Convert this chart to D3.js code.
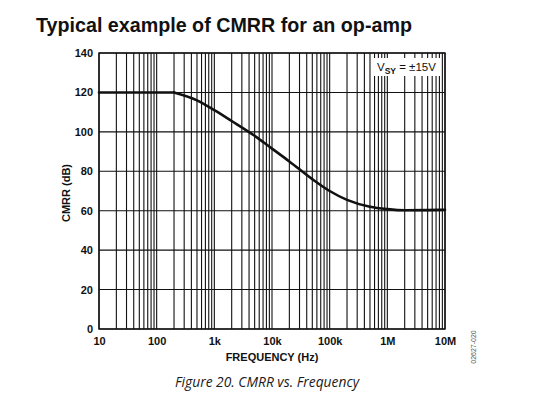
<!DOCTYPE html>
<html>
<head>
<meta charset="utf-8">
<script src="https://cdn.jsdelivr.net/npm/d3@7"></script>
<style>
  body { margin: 0; background: #fff; }
  svg { display: block; }
</style>
</head>
<body>
<script>
// CMRR curve
var freqs = [10, 200, 500, 1000, 2000, 5000, 10000, 20000, 50000, 100000, 200000, 500000, 1000000, 2000000, 5000000, 10000000];
var cmrr  = [120, 120, 116, 111, 105.5, 98, 91.5, 85, 76, 70, 65.5, 62, 60.8, 60.2, 60.3, 60.5];
var yTicks = [0, 20, 40, 60, 80, 100, 120, 140];
var xTicks = [10, 100, 1e3, 1e4, 1e5, 1e6, 1e7];
var xTickLabels = ["10", "100", "1k", "10k", "100k", "1M", "10M"];

var width = 540, height = 417;
var pLeft = 99, pRight = 445, pTop = 53, pBottom = 329;

var svg = d3.select("body").append("svg")
    .attr("width", width)
    .attr("height", height);

var x = d3.scaleLog().domain([10, 1e7]).range([pLeft, pRight]);
var y = d3.scaleLinear().domain([0, 140]).range([pBottom, pTop]);

// title
svg.append("text")
    .attr("x", 36)
    .attr("y", 32)
    .attr("font-family", "Liberation Sans, Arial, sans-serif")
    .attr("font-weight", "bold")
    .attr("font-size", 19.7)
    .attr("fill", "#111")
    .text("Typical example of CMRR for an op-amp");

// vertical grid: 1..9 in every decade
var minor = [];
for (var d = 10; d < 1e7; d *= 10) {
  for (var k = 1; k < 10; k++) minor.push(d * k);
}
minor.push(1e7);

svg.append("g").selectAll("line")
    .data(minor)
    .enter().append("line")
    .attr("x1", function (f) { return x(f); })
    .attr("x2", function (f) { return x(f); })
    .attr("y1", pTop)
    .attr("y2", pBottom)
    .attr("stroke", "#111")
    .attr("stroke-width", 1.1);

svg.append("g").selectAll("line")
    .data(yTicks)
    .enter().append("line")
    .attr("x1", pLeft)
    .attr("x2", pRight)
    .attr("y1", function (v) { return y(v); })
    .attr("y2", function (v) { return y(v); })
    .attr("stroke", "#111")
    .attr("stroke-width", 1.1);

// frame
svg.append("rect")
    .attr("x", pLeft)
    .attr("y", pTop)
    .attr("width", pRight - pLeft)
    .attr("height", pBottom - pTop)
    .attr("fill", "none")
    .attr("stroke", "#111")
    .attr("stroke-width", 1.4);

// axes (labels only)
var yAxis = svg.append("g")
    .attr("transform", "translate(" + pLeft + ",0)")
    .call(d3.axisLeft(y).tickValues(yTicks).tickSize(0).tickPadding(6));
var xAxis = svg.append("g")
    .attr("transform", "translate(0," + pBottom + ")")
    .call(d3.axisBottom(x).tickValues(xTicks).tickSize(0).tickPadding(8)
      .tickFormat(function (d, i) { return xTickLabels[i]; }));

[yAxis, xAxis].forEach(function (a) {
  a.select(".domain").remove();
  a.selectAll("text")
      .attr("font-family", "Liberation Sans, Arial, sans-serif")
      .attr("font-weight", "bold")
      .attr("font-size", 11)
      .attr("fill", "#111");
});

svg.append("text")
    .attr("x", 272)
    .attr("y", 361)
    .attr("text-anchor", "middle")
    .attr("font-family", "Liberation Sans, Arial, sans-serif")
    .attr("font-weight", "bold")
    .attr("font-size", 11)
    .attr("fill", "#111")
    .text("FREQUENCY (Hz)");

svg.append("text")
    .attr("transform", "translate(70,193) rotate(-90)")
    .attr("text-anchor", "middle")
    .attr("font-family", "Liberation Sans, Arial, sans-serif")
    .attr("font-weight", "bold")
    .attr("font-size", 11)
    .attr("fill", "#111")
    .text("CMRR (dB)");

// curve: flat part straight, roll-off smoothed (keeps the sharp knee at 200 Hz)
var pts = freqs.map(function (f, i) { return [f, cmrr[i]]; });
var flatLine = d3.line()
    .x(function (d) { return x(d[0]); })
    .y(function (d) { return y(d[1]); });
var rollLine = d3.line()
    .x(function (d) { return x(d[0]); })
    .y(function (d) { return y(d[1]); })
    .curve(d3.curveMonotoneX);

[flatLine(pts.slice(0, 2)), rollLine(pts.slice(1))].forEach(function (p) {
  svg.append("path")
      .attr("d", p)
      .attr("fill", "none")
      .attr("stroke", "#111")
      .attr("stroke-width", 2.6)
      .attr("stroke-linejoin", "round")
      .attr("stroke-linecap", "round");
});

// legend box
svg.append("rect")
    .attr("x", 374)
    .attr("y", 58)
    .attr("width", 67)
    .attr("height", 18)
    .attr("fill", "#fff");

var leg = svg.append("text")
    .attr("x", 377)
    .attr("y", 71)
    .attr("font-family", "Liberation Sans, Arial, sans-serif")
    .attr("font-size", 11.5)
    .attr("fill", "#111");
leg.append("tspan").text("V");
leg.append("tspan").attr("dy", 3).attr("font-size", 8.5).attr("font-weight", "bold").text("SY");
leg.append("tspan").attr("dy", -3).text(" = \u00b115V");

// figure id
svg.append("text")
    .attr("transform", "translate(476,347) rotate(-90)")
    .attr("text-anchor", "middle")
    .attr("font-family", "Liberation Sans, Arial, sans-serif")
    .attr("font-size", 7)
    .attr("fill", "#555")
    .text("02627-020");

// caption
svg.append("text")
    .attr("x", 267)
    .attr("y", 387)
    .attr("text-anchor", "middle")
    .attr("font-family", "Open Sans, sans-serif")
    .attr("font-style", "italic")
    .attr("font-size", 13.8)
    .attr("fill", "#1a1a1a")
    .text("Figure 20. CMRR vs. Frequency");
</script>
</body>
</html>
